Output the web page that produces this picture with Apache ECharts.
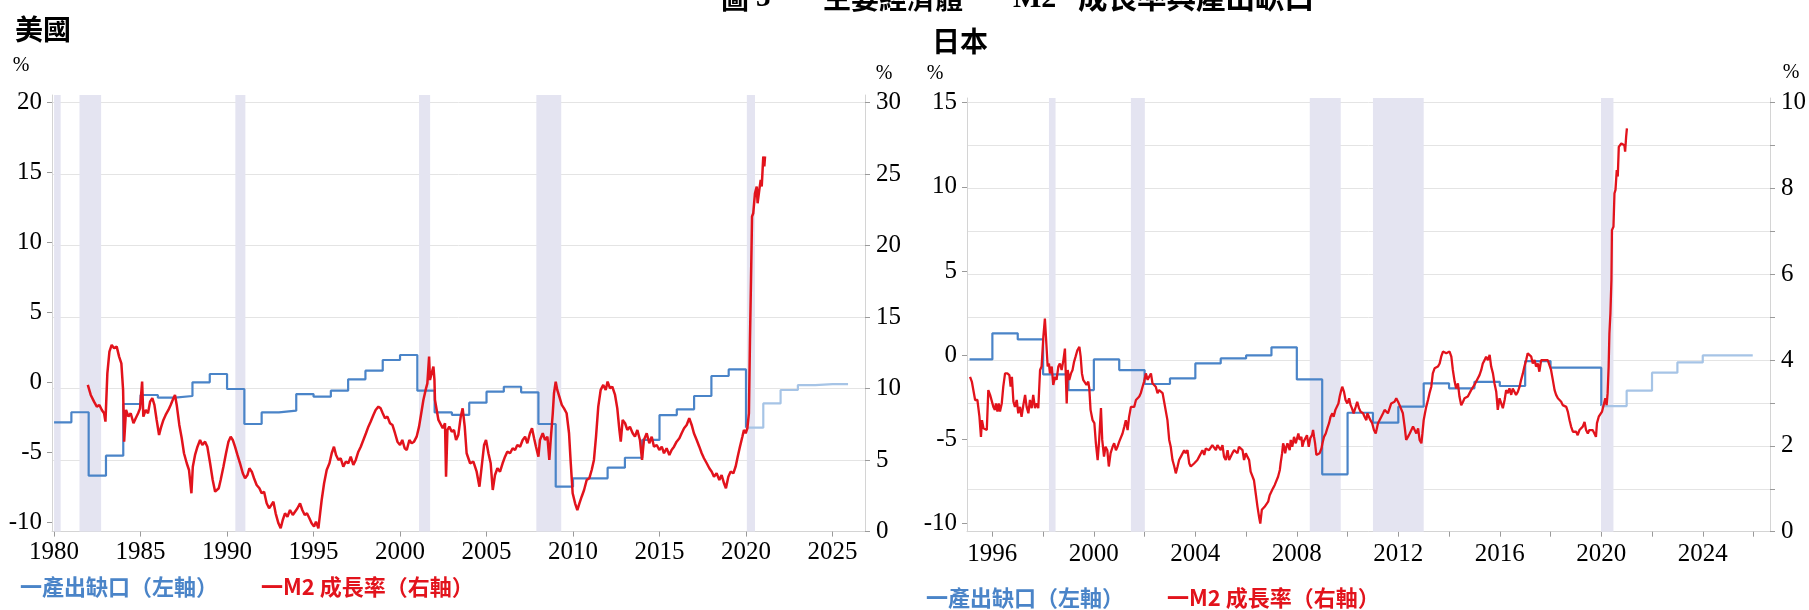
<!DOCTYPE html>
<html><head><meta charset="utf-8">
<script src="https://cdn.jsdelivr.net/npm/echarts@6/dist/echarts.min.js"></script>
<style>html,body{margin:0;padding:0;background:#fff}#c{width:1809px;height:610px}</style>
</head><body><div id="c"></div>
<script>
// ---------------- DATA ----------------
// US output gap (left axis, annual steps)
const usGapYears = [1980,1981,1982,1983,1984,1985,1986,1987,1988,1989,1990,1991,1992,1993,1994,1995,1996,1997,1998,1999,2000,2001,2002,2003,2004,2005,2006,2007,2008,2009,2010,2011,2012,2013,2014,2015,2016,2017,2018,2019];
const usGapValues = [-2.83,-2.11,-6.64,-5.21,-1.52,-0.88,-1.07,-0.95,0.03,0.62,-0.45,-2.95,-2.12,-2.00,-0.81,-1.00,-0.57,0.24,0.86,1.62,1.98,-0.57,-2.12,-2.30,-1.43,-0.64,-0.29,-0.69,-2.95,-7.43,-6.83,-6.83,-6.07,-5.36,-4.09,-2.31,-1.90,-0.95,0.48,0.95];
const usGapFcstYears = [2020,2021,2022,2023,2024,2025];
const usGapFcstValues = [-3.21,-1.48,-0.52,-0.17,-0.10,-0.10];
const usGapFcstEnd = 2025.9;
// US M2 growth (right axis)
const usM2 = [[1981.95,10.26],[1982.12,9.56],[1982.31,9.09],[1982.47,8.74],[1982.62,8.86],[1982.76,8.51],[1982.89,8.28],[1982.97,7.69],[1983.08,11.07],[1983.20,12.59],[1983.33,13.06],[1983.47,12.83],[1983.62,12.94],[1983.76,12.24],[1983.89,11.77],[1983.99,9.91],[1984.05,6.29],[1984.16,8.51],[1984.30,8.04],[1984.43,8.28],[1984.59,7.58],[1984.72,7.93],[1984.86,8.28],[1984.97,8.62],[1985.09,10.49],[1985.16,8.04],[1985.30,8.51],[1985.43,8.28],[1985.55,9.09],[1985.68,9.33],[1985.80,8.86],[1985.93,7.81],[1986.07,6.76],[1986.17,7.23],[1986.32,7.81],[1986.45,8.16],[1986.61,8.51],[1986.74,8.86],[1986.90,9.33],[1986.99,9.56],[1987.09,8.86],[1987.24,7.46],[1987.38,6.53],[1987.51,5.48],[1987.67,4.78],[1987.80,4.31],[1987.94,2.68],[1988.02,4.54],[1988.15,5.36],[1988.29,5.94],[1988.44,6.41],[1988.57,6.06],[1988.73,6.29],[1988.86,5.94],[1989.02,4.78],[1989.17,3.61],[1989.31,2.79],[1989.40,2.68],[1989.52,3.03],[1989.63,3.61],[1989.79,4.54],[1989.94,5.48],[1990.08,6.29],[1990.21,6.64],[1990.33,6.41],[1990.46,5.94],[1990.60,5.36],[1990.75,4.78],[1990.91,4.08],[1991.04,3.73],[1991.18,3.96],[1991.29,4.43],[1991.43,4.19],[1991.56,3.73],[1991.71,3.26],[1991.87,3.03],[1992.00,2.68],[1992.14,2.79],[1992.29,1.98],[1992.43,1.63],[1992.56,1.86],[1992.68,2.09],[1992.81,1.28],[1992.97,0.58],[1993.10,0.23],[1993.22,0.81],[1993.35,1.28],[1993.49,1.04],[1993.64,1.51],[1993.80,1.16],[1993.93,1.39],[1994.07,1.63],[1994.22,1.98],[1994.35,1.51],[1994.49,1.16],[1994.62,1.28],[1994.76,0.93],[1994.89,0.58],[1995.03,0.35],[1995.14,0.70],[1995.28,0.23],[1995.38,1.28],[1995.47,2.21],[1995.61,3.38],[1995.76,4.31],[1995.92,4.78],[1996.05,5.48],[1996.18,5.94],[1996.30,5.36],[1996.44,5.01],[1996.57,5.13],[1996.72,4.54],[1996.86,4.89],[1997.01,4.78],[1997.15,5.24],[1997.30,4.66],[1997.44,5.01],[1997.59,5.59],[1997.73,5.94],[1997.88,6.41],[1998.03,6.88],[1998.17,7.34],[1998.30,7.69],[1998.46,8.16],[1998.59,8.51],[1998.75,8.74],[1998.88,8.62],[1999.00,8.28],[1999.13,7.93],[1999.27,8.04],[1999.42,7.58],[1999.56,7.46],[1999.71,6.88],[1999.85,6.29],[2000.00,6.06],[2000.13,6.41],[2000.27,5.83],[2000.39,5.71],[2000.54,6.41],[2000.67,6.18],[2000.81,6.29],[2000.96,6.64],[2001.10,7.34],[2001.21,8.16],[2001.35,9.21],[2001.48,9.91],[2001.58,10.37],[2001.68,12.24],[2001.73,10.61],[2001.83,10.72],[2001.93,11.54],[2001.99,10.61],[2002.02,9.21],[2002.12,8.51],[2002.22,7.81],[2002.31,7.93],[2002.47,7.23],[2002.60,7.58],[2002.66,3.84],[2002.74,7.11],[2002.85,7.34],[2002.99,6.99],[2003.12,7.11],[2003.24,6.41],[2003.37,6.76],[2003.51,8.04],[2003.62,8.62],[2003.74,7.34],[2003.85,5.48],[2004.05,4.78],[2004.24,4.89],[2004.43,4.19],[2004.59,3.14],[2004.72,4.54],[2004.86,6.06],[2004.97,6.41],[2005.11,5.48],[2005.24,4.78],[2005.36,2.91],[2005.49,3.96],[2005.63,4.43],[2005.78,4.19],[2005.93,4.78],[2006.07,5.24],[2006.20,5.59],[2006.36,5.48],[2006.51,5.83],[2006.65,5.71],[2006.78,6.06],[2006.94,5.94],[2007.09,6.41],[2007.23,6.64],[2007.36,6.18],[2007.51,6.88],[2007.63,7.23],[2007.75,6.53],[2007.86,5.94],[2008.00,5.24],[2008.09,6.41],[2008.25,6.88],[2008.38,6.41],[2008.52,6.64],[2008.63,5.01],[2008.71,6.41],[2008.83,8.28],[2008.90,9.68],[2009.00,10.49],[2009.09,9.91],[2009.21,9.44],[2009.35,8.86],[2009.48,8.62],[2009.63,8.28],[2009.77,6.88],[2009.87,4.78],[2009.98,2.68],[2010.12,1.98],[2010.25,1.51],[2010.37,1.98],[2010.50,2.44],[2010.64,2.91],[2010.79,3.61],[2010.94,3.73],[2011.08,4.31],[2011.21,5.01],[2011.33,6.64],[2011.46,8.74],[2011.60,9.91],[2011.75,10.26],[2011.89,9.91],[2012.00,10.49],[2012.14,10.02],[2012.27,10.14],[2012.43,9.56],[2012.56,8.62],[2012.68,7.11],[2012.76,6.29],[2012.87,7.81],[2013.01,7.58],[2013.14,7.11],[2013.29,7.34],[2013.45,6.88],[2013.58,6.64],[2013.72,7.11],[2013.87,6.41],[2013.99,5.01],[2014.10,6.41],[2014.26,6.88],[2014.41,6.18],[2014.55,6.64],[2014.68,5.94],[2014.84,6.06],[2014.99,5.71],[2015.13,5.94],[2015.26,5.48],[2015.41,5.83],[2015.57,5.36],[2015.70,5.71],[2015.84,5.94],[2015.99,6.29],[2016.15,6.53],[2016.28,6.88],[2016.42,7.23],[2016.57,7.46],[2016.72,7.93],[2016.86,7.46],[2016.99,6.88],[2017.15,6.41],[2017.30,5.94],[2017.44,5.48],[2017.57,5.13],[2017.73,4.78],[2017.88,4.43],[2018.02,4.19],[2018.15,3.84],[2018.30,4.08],[2018.46,3.61],[2018.59,3.96],[2018.73,3.38],[2018.84,3.03],[2018.98,3.84],[2019.11,4.19],[2019.27,4.08],[2019.40,4.54],[2019.52,5.24],[2019.65,5.94],[2019.79,6.64],[2019.88,7.11],[2019.98,6.88],[2020.08,7.23],[2020.17,8.28],[2020.23,13.41],[2020.29,17.61],[2020.35,22.04],[2020.42,22.27],[2020.52,23.67],[2020.62,24.14],[2020.67,22.97],[2020.77,23.90],[2020.85,24.60],[2020.91,24.14],[2020.96,25.30],[2021.00,26.24],[2021.06,25.54],[2021.10,26.24]];
const usRecessions = [[1980.0,1980.38],[1981.47,1982.72],[1990.48,1991.06],[2001.1,2001.74],[2007.88,2009.32],[2020.05,2020.52]];

// Japan output gap (left axis, annual steps)
const jpGapYears = [1995.1,1996,1997,1998,1999,2000,2001,2002,2003,2004,2005,2006,2007,2008,2009,2010,2011,2012,2013,2014,2015,2016,2017,2018,2019];
const jpGapValues = [-0.26,1.29,0.93,-1.15,-2.08,-0.26,-0.89,-1.72,-1.39,-0.50,-0.20,-0.02,0.46,-1.45,-7.09,-3.43,-4.02,-3.07,-1.68,-1.98,-1.59,-1.84,-0.36,-0.75,-0.75];
const jpGapFcstYears = [2020,2021,2022,2023,2024,2025];
const jpGapFcstValues = [-3.03,-2.12,-1.05,-0.44,-0.02,-0.02];
const jpGapFcstEnd = 2025.97;
// Japan M2 growth (right axis)
const jpM2 = [[1995.12,3.61],[1995.19,3.50],[1995.25,3.54],[1995.32,3.07],[1995.41,3.07],[1995.49,2.68],[1995.55,2.21],[1995.59,2.60],[1995.65,2.41],[1995.71,2.45],[1995.78,2.37],[1995.84,3.30],[1995.91,3.19],[1995.97,3.15],[1996.04,2.91],[1996.10,2.84],[1996.14,2.99],[1996.20,2.80],[1996.25,2.99],[1996.30,2.80],[1996.37,2.99],[1996.43,3.38],[1996.50,3.69],[1996.59,3.69],[1996.67,3.65],[1996.72,3.38],[1996.77,3.61],[1996.83,3.03],[1996.89,2.91],[1996.96,3.07],[1997.02,2.76],[1997.09,2.91],[1997.15,2.68],[1997.22,2.95],[1997.29,3.19],[1997.35,2.91],[1997.42,2.76],[1997.48,3.07],[1997.55,2.88],[1997.61,3.19],[1997.68,2.88],[1997.75,2.99],[1997.81,2.88],[1997.88,3.77],[1997.94,3.85],[1998.01,4.55],[1998.07,4.97],[1998.14,4.93],[1998.18,3.85],[1998.23,3.92],[1998.27,3.69],[1998.34,3.85],[1998.40,3.42],[1998.47,3.61],[1998.53,3.54],[1998.60,3.85],[1998.66,3.92],[1998.73,3.77],[1998.80,4.00],[1998.86,4.27],[1998.93,2.99],[1998.97,3.77],[1999.03,3.54],[1999.10,3.69],[1999.16,3.77],[1999.22,3.96],[1999.28,4.08],[1999.35,4.23],[1999.43,4.31],[1999.48,4.08],[1999.53,3.69],[1999.58,3.54],[1999.65,3.50],[1999.71,3.42],[1999.78,3.50],[1999.82,3.34],[1999.87,2.84],[1999.95,2.60],[2000.02,2.53],[2000.08,2.06],[2000.15,1.67],[2000.21,2.14],[2000.28,2.88],[2000.33,2.14],[2000.40,1.75],[2000.46,1.98],[2000.53,1.90],[2000.59,1.52],[2000.66,1.83],[2000.74,1.98],[2000.80,2.06],[2000.87,1.90],[2000.93,1.98],[2001.00,2.10],[2001.07,2.14],[2001.13,2.29],[2001.20,2.45],[2001.26,2.60],[2001.33,2.37],[2001.39,2.68],[2001.46,2.91],[2001.52,2.95],[2001.59,2.91],[2001.66,3.07],[2001.72,3.07],[2001.79,3.15],[2001.85,3.23],[2001.92,3.38],[2001.98,3.50],[2002.05,3.69],[2002.12,3.54],[2002.18,3.61],[2002.25,3.69],[2002.31,3.46],[2002.38,3.46],[2002.44,3.38],[2002.51,3.23],[2002.57,3.30],[2002.64,3.26],[2002.71,3.23],[2002.77,3.03],[2002.84,2.99],[2002.90,2.60],[2002.97,2.14],[2003.03,1.98],[2003.10,1.67],[2003.17,1.52],[2003.23,1.36],[2003.30,1.52],[2003.36,1.67],[2003.43,1.75],[2003.49,1.79],[2003.56,1.90],[2003.62,1.83],[2003.69,1.90],[2003.76,1.59],[2003.82,1.52],[2003.89,1.52],[2003.95,1.59],[2004.02,1.59],[2004.08,1.67],[2004.15,1.75],[2004.22,1.83],[2004.28,1.90],[2004.35,1.79],[2004.41,1.94],[2004.48,1.98],[2004.54,1.90],[2004.61,1.90],[2004.67,2.02],[2004.74,1.98],[2004.81,1.90],[2004.87,2.02],[2004.94,1.98],[2005.00,1.90],[2005.07,2.02],[2005.13,1.75],[2005.20,1.67],[2005.27,1.90],[2005.33,1.67],[2005.40,1.63],[2005.46,1.83],[2005.53,1.90],[2005.59,1.90],[2005.66,1.83],[2005.72,1.98],[2005.79,1.98],[2005.86,1.90],[2005.92,1.67],[2005.99,1.83],[2006.05,1.75],[2006.12,1.67],[2006.18,1.40],[2006.25,1.36],[2006.31,1.20],[2006.38,0.89],[2006.45,0.58],[2006.51,0.35],[2006.56,0.19],[2006.62,0.51],[2006.67,0.54],[2006.73,0.58],[2006.80,0.62],[2006.87,0.70],[2006.93,0.85],[2007.00,0.89],[2007.06,1.01],[2007.13,1.09],[2007.20,1.13],[2007.26,1.28],[2007.33,1.44],[2007.36,1.59],[2007.42,1.83],[2007.46,2.06],[2007.50,1.98],[2007.54,1.83],[2007.59,1.98],[2007.63,2.06],[2007.67,2.06],[2007.72,1.90],[2007.76,2.14],[2007.82,1.98],[2007.89,2.21],[2007.96,2.06],[2008.01,2.18],[2008.06,2.29],[2008.11,2.14],[2008.18,2.21],[2008.22,1.98],[2008.27,2.10],[2008.34,2.14],[2008.40,2.25],[2008.47,1.98],[2008.53,2.18],[2008.60,2.25],[2008.64,2.37],[2008.68,2.21],[2008.72,2.06],[2008.77,1.79],[2008.83,1.79],[2008.90,1.83],[2008.97,1.94],[2009.01,2.06],[2009.07,2.21],[2009.14,2.29],[2009.20,2.41],[2009.27,2.53],[2009.33,2.68],[2009.40,2.76],[2009.45,2.68],[2009.52,2.84],[2009.58,2.84],[2009.64,2.99],[2009.69,3.15],[2009.75,3.30],[2009.79,3.38],[2009.86,3.26],[2009.92,3.07],[2009.99,2.99],[2010.06,3.11],[2010.12,2.95],[2010.17,2.88],[2010.24,2.76],[2010.32,2.91],[2010.38,3.03],[2010.45,2.88],[2010.51,2.80],[2010.61,2.76],[2010.67,2.68],[2010.74,2.60],[2010.78,2.76],[2010.84,2.72],[2010.90,2.60],[2010.97,2.53],[2011.04,2.37],[2011.11,2.29],[2011.20,2.53],[2011.26,2.60],[2011.33,2.68],[2011.40,2.76],[2011.46,2.84],[2011.53,2.88],[2011.59,2.76],[2011.72,2.99],[2011.85,3.03],[2011.92,3.11],[2011.99,3.03],[2012.05,2.95],[2012.18,2.76],[2012.25,2.45],[2012.31,2.14],[2012.38,2.21],[2012.45,2.29],[2012.51,2.29],[2012.58,2.45],[2012.64,2.45],[2012.71,2.29],[2012.78,2.41],[2012.84,2.14],[2012.91,2.06],[2012.95,2.29],[2013.00,2.60],[2013.05,2.76],[2013.10,2.91],[2013.17,3.07],[2013.23,3.23],[2013.30,3.38],[2013.36,3.69],[2013.43,3.81],[2013.49,3.81],[2013.56,3.85],[2013.63,3.92],[2013.69,4.08],[2013.76,4.20],[2013.82,4.23],[2013.89,4.16],[2013.95,4.20],[2014.02,4.20],[2014.09,4.08],[2014.15,3.77],[2014.22,3.50],[2014.28,3.34],[2014.35,3.46],[2014.41,3.15],[2014.48,2.95],[2014.55,3.03],[2014.61,3.11],[2014.68,3.07],[2014.74,3.15],[2014.81,3.19],[2014.87,3.30],[2014.94,3.34],[2015.00,3.42],[2015.07,3.50],[2015.14,3.54],[2015.20,3.65],[2015.27,3.77],[2015.33,3.92],[2015.40,4.00],[2015.46,4.08],[2015.53,4.00],[2015.60,4.12],[2015.66,3.85],[2015.73,3.69],[2015.79,3.46],[2015.86,3.26],[2015.92,2.84],[2015.99,3.11],[2016.05,3.11],[2016.12,2.88],[2016.19,3.07],[2016.25,3.30],[2016.32,3.23],[2016.38,3.34],[2016.45,3.19],[2016.51,3.34],[2016.58,3.30],[2016.64,3.19],[2016.71,3.26],[2016.78,3.38],[2016.84,3.54],[2016.91,3.69],[2016.97,3.85],[2017.04,4.00],[2017.10,4.16],[2017.17,4.20],[2017.24,4.08],[2017.30,3.92],[2017.37,4.00],[2017.43,3.85],[2017.50,3.92],[2017.56,3.73],[2017.63,4.00],[2017.70,4.00],[2017.76,4.00],[2017.83,4.04],[2017.89,4.00],[2017.96,4.00],[2018.02,3.77],[2018.09,3.54],[2018.16,3.30],[2018.22,3.19],[2018.29,3.11],[2018.35,3.07],[2018.42,3.03],[2018.48,2.95],[2018.55,2.95],[2018.62,2.91],[2018.68,2.80],[2018.75,2.60],[2018.81,2.45],[2018.88,2.33],[2018.94,2.29],[2019.01,2.33],[2019.07,2.25],[2019.14,2.37],[2019.20,2.37],[2019.27,2.45],[2019.34,2.56],[2019.40,2.37],[2019.47,2.29],[2019.53,2.37],[2019.60,2.33],[2019.66,2.37],[2019.73,2.29],[2019.79,2.21],[2019.83,2.53],[2019.90,2.68],[2019.97,2.72],[2020.03,2.80],[2020.10,2.84],[2020.16,3.11],[2020.21,2.95],[2020.25,3.23],[2020.29,3.85],[2020.32,4.62],[2020.36,5.09],[2020.40,5.87],[2020.42,7.03],[2020.48,7.11],[2020.52,7.89],[2020.56,7.97],[2020.61,8.43],[2020.65,8.28],[2020.69,8.97],[2020.74,9.01],[2020.79,9.05],[2020.84,9.09],[2020.91,9.01],[2020.94,8.86],[2020.98,9.21],[2021.01,9.40]];
const jpRecessions = [[1998.23,1998.49],[2001.46,2002.01],[2008.51,2009.73],[2011.0,2013.0],[2019.99,2020.48]];

// tick / label values
const usXTicks = [1980,1985,1990,1995,2000,2005,2010,2015,2020,2025];
const usLeftTicks = [-10,-5,0,5,10,15,20];
const usRightTicks = [0,5,10,15,20,25,30];
const jpXTicks = [1996,1998,2000,2002,2004,2006,2008,2010,2012,2014,2016,2018,2020,2022,2024,2026];
const jpXLabels = [1996,2000,2004,2008,2012,2016,2020,2024];
const jpLeftTicks = [-10,-5,0,5,10,15];
const jpRightTicks = [0,1,2,3,4,5,6,7,8,9,10];
const jpRightLabels = [0,2,4,6,8,10];

// ---------------- STYLE ----------------
const SERIF = '"Liberation Serif","Times New Roman",serif';
const CJK = '"Noto Sans CJK TC","Noto Sans CJK SC",sans-serif';
const BLUE = '#4a84c8', BLUE_LIGHT = '#a6c4e6', RED = '#e2131c', SHADE = '#e4e4f1';
const GRID_C = '#e4e4e4', AXIS_C = '#d4d4d4', TICK_C = '#9a9a9a';

function stepData(years, vals, endYear, endVal) {
  const d = years.map((y, i) => [y, vals[i]]);
  d.push([endYear, endVal]);
  return d;
}
function xAxisCfg(gi, min, max, ticks, labels, margin) {
  return { type: 'value', gridIndex: gi, min, max,
    axisLine: { show: true, onZero: false, lineStyle: { color: AXIS_C } },
    axisTick: { show: true, length: 5, customValues: ticks, lineStyle: { color: TICK_C } },
    axisLabel: { customValues: labels, fontFamily: SERIF, fontSize: 25, color: '#000', margin, formatter: v => String(v) },
    splitLine: { show: false } };
}
function yAxisCfg(gi, pos, min, max, ticks, labels, grid, margin) {
  return { type: 'value', gridIndex: gi, position: pos, min, max,
    axisLine: { show: true, lineStyle: { color: AXIS_C } },
    axisTick: { show: true, length: 5, customValues: ticks, lineStyle: { color: TICK_C } },
    axisLabel: { customValues: labels, fontFamily: SERIF, fontSize: 25, color: '#000', margin, formatter: v => String(v) },
    splitLine: { show: grid, lineStyle: { color: GRID_C, width: 1 } } };
}
function shade(list) {
  return { silent: true, itemStyle: { color: SHADE }, label: { show: false },
    data: list.map(r => [{ xAxis: r[0] }, { xAxis: r[1] }]) };
}
function txt(x, y, text, font, fill, align, va) {
  return { type: 'text', x, y, silent: true,
    style: { text, font, fill, align: align || 'left', verticalAlign: va || 'middle' } };
}

const option = {
  animation: false,
  backgroundColor: '#fff',
  grid: [
    { left: 52, top: 95, width: 813, height: 436.6 },
    { left: 967, top: 98, width: 803.7, height: 433.7 }
  ],
  xAxis: [
    xAxisCfg(0, 1979.88, 2026.88, usXTicks, usXTicks, 8),
    xAxisCfg(1, 1995.0, 2026.65, jpXTicks, jpXLabels, 10)
  ],
  yAxis: [
    yAxisCfg(0, 'left', -10.636, 20.55, usLeftTicks, usLeftTicks, false, 10),
    yAxisCfg(0, 'right', 0, 30.54, usRightTicks, usRightTicks, true, 11),
    yAxisCfg(1, 'left', -10.5, 15.28, jpLeftTicks, jpLeftTicks, false, 10),
    yAxisCfg(1, 'right', 0, 10.11, jpRightTicks, jpRightLabels, true, 11)
  ],
  series: [
    { name: '產出缺口', type: 'line', xAxisIndex: 0, yAxisIndex: 0, step: 'end', showSymbol: false,
      lineStyle: { color: BLUE, width: 2.2 }, itemStyle: { color: BLUE },
      data: stepData(usGapYears, usGapValues, usGapFcstYears[0], usGapFcstValues[0]),
      markArea: shade(usRecessions) },
    { name: '產出缺口預測', type: 'line', xAxisIndex: 0, yAxisIndex: 0, step: 'end', showSymbol: false,
      lineStyle: { color: BLUE_LIGHT, width: 2.2 },
      data: stepData(usGapFcstYears, usGapFcstValues, usGapFcstEnd, usGapFcstValues[usGapFcstValues.length - 1]) },
    { name: 'M2 成長率', type: 'line', xAxisIndex: 0, yAxisIndex: 1, showSymbol: false,
      lineStyle: { color: RED, width: 2.5 }, data: usM2 },
    { name: '產出缺口JP', type: 'line', xAxisIndex: 1, yAxisIndex: 2, step: 'end', showSymbol: false,
      lineStyle: { color: BLUE, width: 2.2 },
      data: stepData(jpGapYears, jpGapValues, jpGapFcstYears[0], jpGapFcstValues[0]),
      markArea: shade(jpRecessions) },
    { name: '產出缺口預測JP', type: 'line', xAxisIndex: 1, yAxisIndex: 2, step: 'end', showSymbol: false,
      lineStyle: { color: BLUE_LIGHT, width: 2.2 },
      data: stepData(jpGapFcstYears, jpGapFcstValues, jpGapFcstEnd, jpGapFcstValues[jpGapFcstValues.length - 1]) },
    { name: 'M2 成長率JP', type: 'line', xAxisIndex: 1, yAxisIndex: 3, showSymbol: false,
      lineStyle: { color: RED, width: 2.3 }, data: jpM2 }
  ],
  graphic: { elements: [
    // main title (cut off at the top edge)
    txt(721, 12, '圖', 'bold 28px ' + CJK, '#000', 'left', 'bottom'),
    txt(756, 13, '3', 'bold 29px ' + SERIF, '#000', 'left', 'bottom'),
    txt(823, 12, '主要經濟體', 'bold 28px ' + CJK, '#000', 'left', 'bottom'),
    txt(1013, 14, 'M2', 'bold 30px ' + SERIF, '#000', 'left', 'bottom'),
    txt(1078, 12, '成長率與產出缺口', 'bold 29.5px ' + CJK, '#000', 'left', 'bottom'),
    // panel titles
    txt(15, 29, '美國', 'bold 28px ' + CJK, '#000'),
    txt(932, 41, '日本', 'bold 28px ' + CJK, '#000'),
    // unit labels
    txt(21, 66, '%', '20px ' + SERIF, '#000', 'center'),
    txt(884, 74, '%', '20px ' + SERIF, '#000', 'center'),
    txt(935, 74, '%', '20px ' + SERIF, '#000', 'center'),
    txt(1791, 73, '%', '20px ' + SERIF, '#000', 'center'),
    // legends
    txt(20, 587, '一產出缺口（左軸）', 'bold 22px ' + CJK, BLUE),
    txt(261, 587, '一M2 成長率（右軸）', 'bold 22px ' + CJK, RED),
    txt(926, 598, '一產出缺口（左軸）', 'bold 22px ' + CJK, BLUE),
    txt(1167, 598, '一M2 成長率（右軸）', 'bold 22px ' + CJK, RED)
  ] }
};

const chart = echarts.init(document.getElementById('c'), null, { renderer: 'canvas' });
chart.setOption(option);
</script></body></html>
